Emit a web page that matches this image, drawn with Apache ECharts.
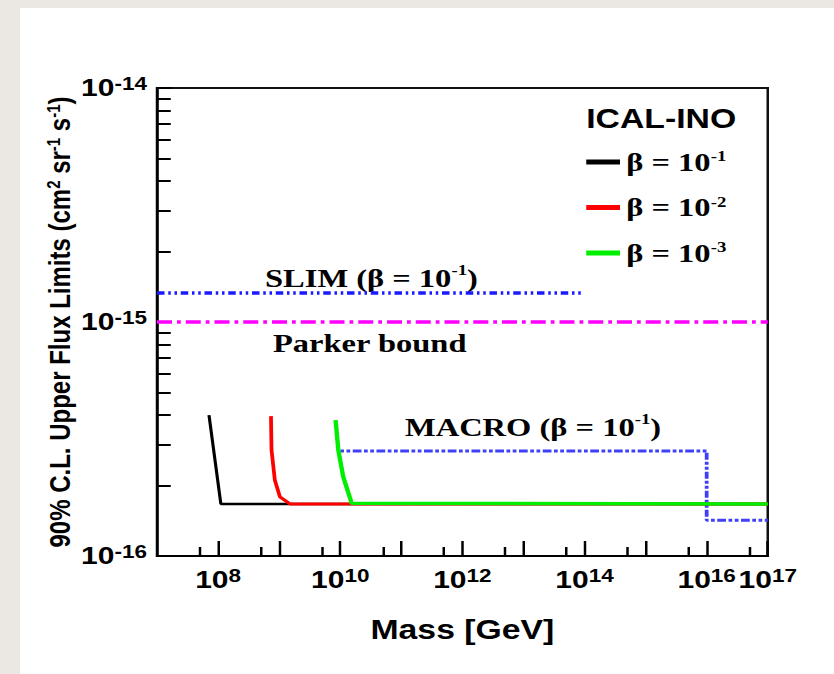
<!DOCTYPE html>
<html>
<head>
<meta charset="utf-8">
<script src="https://cdn.jsdelivr.net/npm/echarts@6/dist/echarts.min.js"></script>
<style>
  html, body { margin: 0; padding: 0; width: 834px; height: 674px; overflow: hidden; background: #ebe8e3; }
  #card { position: absolute; left: 20px; top: 8px; right: 0; bottom: 0; background: #ffffff; }
  /* the plot is laid out on a narrower canvas and widened to the page */
  #chart { position: absolute; left: 0; top: 0; width: 667.2px; height: 674px; transform: scaleX(1.25); transform-origin: 0 0; }
</style>
</head>
<body>
<div id="card"></div>
<div id="chart"></div>
<script>
// ---- axis ranges and ticks ----
const massRange = [1e7, 1e17];
const fluxRange = [1e-16, 1e-14];
const massMajorTicks = [1e8, 1e9, 1e10, 1e11, 1e12, 1e13, 1e14, 1e15, 1e16, 1e17];
const massMinorTicks = [5e7, 5e8, 5e9, 5e10, 5e11, 5e12, 5e13, 5e14, 5e15, 5e16];
const massLabelValues = [1e8, 1e10, 1e12, 1e14, 1e16, 1e17];
const fluxMajorTicks = [1e-16, 1e-15, 1e-14];
const fluxMinorTicks = [2e-16, 3e-16, 4e-16, 5e-16, 6e-16, 7e-16, 8e-16, 9e-16,
                        2e-15, 3e-15, 4e-15, 5e-15, 6e-15, 7e-15, 8e-15, 9e-15];
const fluxLabelValues = [1e-16, 1e-15, 1e-14];

// ---- ICAL-INO sensitivity curves, [mass GeV, flux cm^-2 sr^-1 s^-1] ----
const icalBetaExponents = ['-1', '-2', '-3'];
const icalBeta1 = [[7.1e7, 4.0e-16], [1.11e8, 1.67e-16], [1e17, 1.67e-16]];
const icalBeta2 = [[7.35e8, 3.96e-16], [7.5e8, 2.84e-16], [8.5e8, 2.11e-16], [1.03e9, 1.79e-16],
                   [1.5e9, 1.67e-16], [1e17, 1.67e-16]];
const icalBeta3 = [[8.4e9, 3.81e-16], [9.3e9, 2.84e-16], [1.12e10, 2.18e-16], [1.54e10, 1.68e-16],
                   [1e17, 1.67e-16]];

// ---- existing limits ----
const slimLimit = [[1e7, 1.33e-15], [1e14, 1.33e-15]];
const parkerBound = [[1e7, 1.0e-15], [1e17, 1.0e-15]];
const macroLimit = [[1e10, 2.81e-16], [1e16, 2.81e-16], [1e16, 1.42e-16], [1e17, 1.42e-16]];

const SANS = 'Liberation Sans';
const SERIF = 'Liberation Serif';

function powerLabel(v) {
  const e = Math.round(Math.log10(v));
  return '{b|10}{s|' + e + '}';
}
const tickRich = {
  b: { fontFamily: SANS, fontWeight: 'bold', fontSize: 24, lineHeight: 26, color: '#000' },
  s: { fontFamily: SANS, fontWeight: 'bold', fontSize: 18, lineHeight: 17, color: '#000', verticalAlign: 'top' }
};
const serifRich = {
  a: { fontFamily: SERIF, fontWeight: 'bold', fontSize: 26, lineHeight: 30, fill: '#000' },
  s: { fontFamily: SERIF, fontWeight: 'bold', fontSize: 15, lineHeight: 17, fill: '#000', verticalAlign: 'top' }
};

function logAxis(range, extra) {
  return Object.assign({
    type: 'log', logBase: 10, min: range[0], max: range[1],
    splitLine: { show: false }, minorSplitLine: { show: false }
  }, extra);
}

const chart = echarts.init(document.getElementById('chart'), null, { renderer: 'svg' });

chart.setOption({
  animation: false,
  backgroundColor: 'transparent',
  grid: {
    left: 125.6, right: 52.8, top: 88, bottom: 118,
    show: true, borderColor: '#111', borderWidth: 2, backgroundColor: 'transparent',
    outerBoundsMode: 'none'
  },
  xAxis: [
    logAxis(massRange, {
      position: 'bottom',
      name: 'Mass [GeV]', nameLocation: 'middle', nameGap: 60,
      nameTextStyle: { fontFamily: SANS, fontWeight: 'bold', fontSize: 27, color: '#000' },
      axisLine: { show: true, onZero: false, lineStyle: { color: '#000', width: 2 } },
      axisTick: { show: true, inside: true, length: 15, customValues: massMajorTicks,
                  lineStyle: { color: '#000', width: 2 } },
      axisLabel: { show: true, margin: 11, customValues: massLabelValues, hideOverlap: false,
                   formatter: powerLabel, rich: tickRich }
    }),
    logAxis(massRange, {
      position: 'bottom',
      axisLine: { show: false },
      axisTick: { show: true, inside: true, length: 9, customValues: massMinorTicks,
                  lineStyle: { color: '#000', width: 2 } },
      axisLabel: { show: false }
    })
  ],
  yAxis: [
    logAxis(fluxRange, {
      position: 'left',
      name: '90% C.L. Upper Flux Limits (cm{s|2} sr{s|-1} s{s|-1})',
      nameLocation: 'middle', nameGap: 66, nameRotate: 90, nameMoveOverlap: false,
      nameTextStyle: {
        fontFamily: SANS, fontWeight: 'bold', fontSize: 24, color: '#000',
        rich: { s: { fontFamily: SANS, fontWeight: 'bold', fontSize: 15, verticalAlign: 'top', color: '#000' } }
      },
      axisLine: { show: true, onZero: false, lineStyle: { color: '#000', width: 2 } },
      axisTick: { show: true, inside: true, length: 12, customValues: fluxMajorTicks,
                  lineStyle: { color: '#000', width: 2 } },
      axisLabel: { show: true, margin: 8, customValues: fluxLabelValues, hideOverlap: false,
                   formatter: powerLabel, rich: tickRich }
    }),
    logAxis(fluxRange, {
      position: 'left',
      axisLine: { show: false },
      axisTick: { show: true, inside: true, length: 11, customValues: fluxMinorTicks,
                  lineStyle: { color: '#000', width: 2 } },
      axisLabel: { show: false }
    })
  ],
  legend: {
    data: icalBetaExponents.map(e => 'β = 10^' + e),
    orient: 'vertical', left: 469, top: 149, padding: 0,
    itemWidth: 27, itemHeight: 5, itemGap: 19.5, icon: 'rect',
    selectedMode: false,
    formatter: name => '{b|β = 10}{s|' + name.split('^')[1] + '}',
    textStyle: {
      color: '#000',
      rich: {
        b: { fontFamily: SERIF, fontWeight: 'bold', fontSize: 26, lineHeight: 26, color: '#000' },
        s: { fontFamily: SERIF, fontWeight: 'bold', fontSize: 15, lineHeight: 16, color: '#000', verticalAlign: 'top' }
      }
    }
  },
  graphic: [
    { type: 'text', x: 469, y: 118,
      style: { text: 'ICAL-INO', font: 'bold 27px "Liberation Sans"', fill: '#000', verticalAlign: 'middle' } },
    { type: 'text', x: 212, y: 278,
      style: { text: '{a|SLIM (β = 10}{s|-1}{a|)}', rich: serifRich, verticalAlign: 'middle' } },
    { type: 'text', x: 218.4, y: 343,
      style: { text: '{a|Parker bound}', rich: serifRich, verticalAlign: 'middle' } },
    { type: 'text', x: 324, y: 427,
      style: { text: '{a|MACRO (β = 10}{s|-1}{a|)}', rich: serifRich, verticalAlign: 'middle' } }
  ],
  series: [
    { type: 'line', name: 'SLIM', data: slimLimit, showSymbol: false, silent: true,
      lineStyle: { color: '#1a1aff', width: 3.5, type: [6, 3, 2, 3, 2, 3] } },
    { type: 'line', name: 'Parker bound', data: parkerBound, showSymbol: false, silent: true,
      lineStyle: { color: '#ff00ff', width: 3.5, type: [12, 4, 3, 4] } },
    { type: 'line', name: 'MACRO', data: macroLimit, showSymbol: false, silent: true,
      lineStyle: { color: '#3f3ff8', width: 3, type: [3, 2, 3, 2, 7, 2] } },
    { type: 'line', name: 'β = 10^' + icalBetaExponents[0], data: icalBeta1, showSymbol: false, silent: true,
      itemStyle: { color: '#000' }, lineStyle: { color: '#000', width: 2.5 } },
    { type: 'line', name: 'β = 10^' + icalBetaExponents[1], data: icalBeta2, showSymbol: false, silent: true,
      itemStyle: { color: '#ff0000' }, lineStyle: { color: '#ff0000', width: 3 } },
    { type: 'line', name: 'β = 10^' + icalBetaExponents[2], data: icalBeta3, showSymbol: false, silent: true,
      itemStyle: { color: '#00ee00' }, lineStyle: { color: '#00ee00', width: 3.5 } }
  ]
});
</script>
</body>
</html>
